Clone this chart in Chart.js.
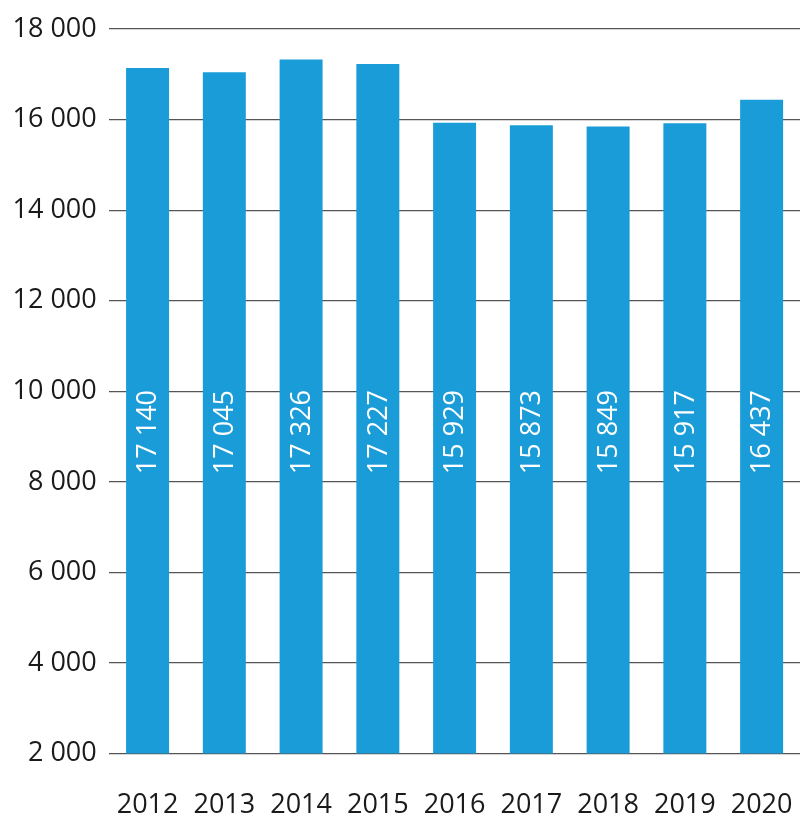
<!DOCTYPE html>
<html>
<head>
<meta charset="utf-8">
<script src="https://cdn.jsdelivr.net/npm/chart.js@4/dist/chart.umd.min.js"></script>
<style>
  html, body { margin: 0; padding: 0; background: #fff; }
  #wrap { width: 800px; height: 837px; }
</style>
</head>
<body>
<div id="wrap"><canvas id="chart"></canvas></div>
<script>
const years = ['2012', '2013', '2014', '2015', '2016', '2017', '2018', '2019', '2020'];
const values = [17140, 17045, 17326, 17227, 15929, 15873, 15849, 15917, 16437];
const yMin = 2000, yMax = 18000, yStep = 2000;
const labelValue = 9100; // value level where the rotated labels sit

function fmt(n) { return String(n).replace(/\B(?=(\d{3})+(?!\d))/g, ' '); }

const FONT = '"Open Sans", "Noto Sans", sans-serif';

const barLabels = {
  id: 'barLabels',
  afterDatasetsDraw(chart) {
    const ctx = chart.ctx;
    const meta = chart.getDatasetMeta(0);
    const y = chart.scales.y.getPixelForValue(labelValue);
    ctx.save();
    ctx.fillStyle = '#fff';
    ctx.font = '27px ' + FONT;
    ctx.textAlign = 'center';
    ctx.textBaseline = 'middle';
    meta.data.forEach((bar, i) => {
      ctx.save();
      ctx.translate(bar.x, y);
      ctx.rotate(-Math.PI / 2);
      ctx.fillText(fmt(values[i]), 0, 1);
      ctx.restore();
    });
    ctx.restore();
  }
};

new Chart(document.getElementById('chart'), {
  type: 'bar',
  data: {
    labels: years,
    datasets: [{ data: values, backgroundColor: '#1a9cd8', barPercentage: 0.56, categoryPercentage: 1 }]
  },
  options: {
    responsive: true,
    maintainAspectRatio: false,
    animation: false,
    layout: { padding: { top: 29, right: 0, left: 0, bottom: 15 } },
    plugins: { legend: { display: false }, tooltip: { enabled: false } },
    scales: {
      x: {
        // invisible ticks push the labels down without adding side padding
        grid: { drawOnChartArea: false, drawTicks: true, tickLength: 36, color: 'rgba(0,0,0,0)' },
        border: { display: false },
        ticks: { color: '#1a1a1a', font: { family: FONT, size: 27 }, padding: 0, maxRotation: 0 }
      },
      y: {
        min: yMin, max: yMax,
        grid: { color: '#555', lineWidth: 1.2, drawTicks: false },
        border: { display: false },
        ticks: { stepSize: yStep, color: '#1a1a1a', font: { family: FONT, size: 27 }, padding: 12.5, callback: v => fmt(v) }
      }
    }
  },
  plugins: [barLabels]
});
</script>
</body>
</html>
